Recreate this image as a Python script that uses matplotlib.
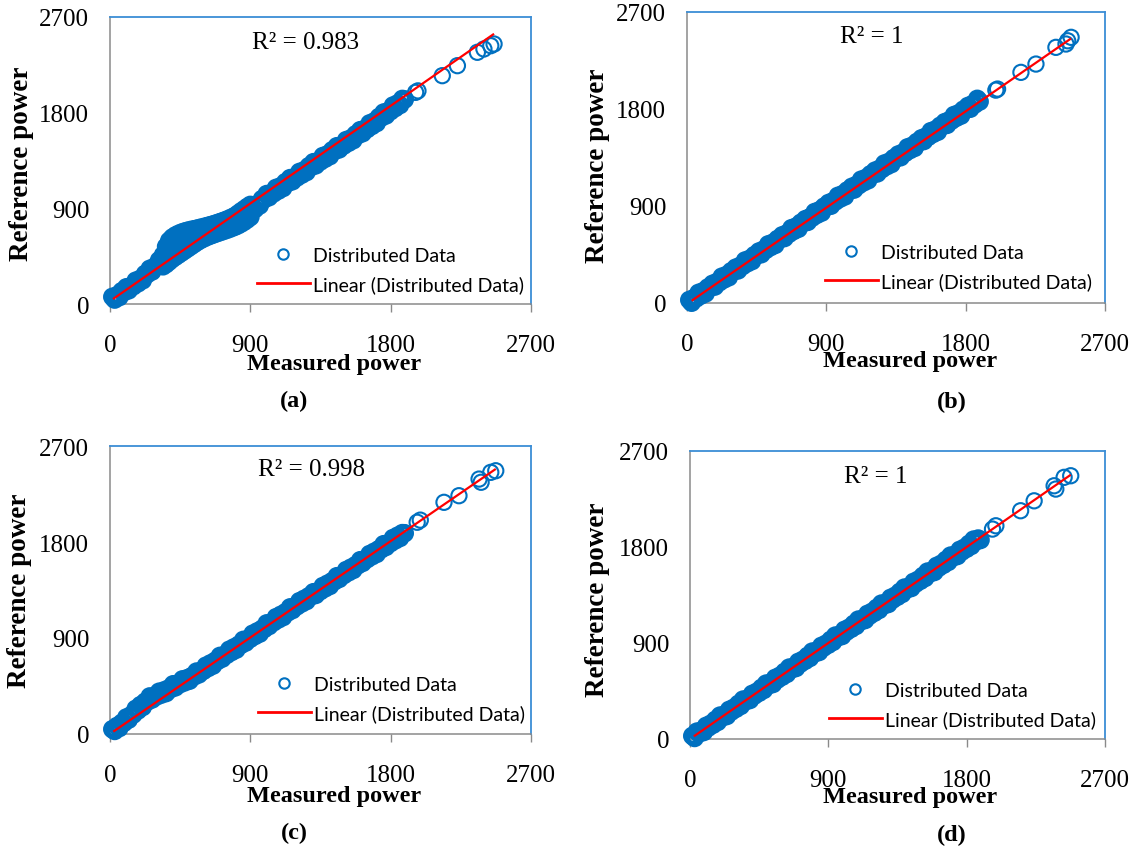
import matplotlib
matplotlib.use("Agg")
import matplotlib.pyplot as plt
from matplotlib.lines import Line2D
from matplotlib.font_manager import FontProperties
import numpy as np

plt.rcParams['font.family'] = ['Liberation Serif', 'DejaVu Serif']

W, H = 1137, 854

# ---------------- data ----------------
measured = [15, 30, 45, 60, 75, 90, 105, 120, 135, 150, 165, 180, 195, 210, 225, 240, 255, 270, 285, 300,
            315, 330, 345, 360, 375, 390, 405, 420, 435, 450, 465, 480, 495, 510, 525, 540, 555, 570, 585, 600,
            615, 630, 645, 660, 675, 690, 705, 720, 735, 750, 765, 780, 795, 810, 825, 840, 855, 870, 885, 900,
            915, 930, 945, 960, 975, 990, 1005, 1020, 1035, 1050, 1065, 1080, 1095, 1110, 1125, 1140, 1155, 1170, 1185, 1200,
            1215, 1230, 1245, 1260, 1275, 1290, 1305, 1320, 1335, 1350, 1365, 1380, 1395, 1410, 1425, 1440, 1455, 1470, 1485, 1500,
            1515, 1530, 1545, 1560, 1575, 1590, 1605, 1620, 1635, 1650, 1665, 1680, 1695, 1710, 1725, 1740, 1755, 1770, 1785, 1800,
            1815, 1830, 1845, 1860, 1875, 1890]

ref_a = [67, 42, 82, 65, 120, 112, 157, 129, 169, 167, 219, 195, 237, 223, 283, 281, 331, 306, 350, 352,
         411, 394, 445, 438, 504, 505, 558, 536, 578, 578, 631, 604, 644, 623, 672, 660, 698, 661, 693, 682,
         724, 690, 722, 697, 743, 727, 763, 726, 757, 747, 790, 757, 790, 769, 821, 812, 855, 824, 861, 856,
         912, 893, 939, 927, 987, 986, 1034, 1005, 1044, 1041, 1092, 1067, 1108, 1091, 1146, 1139, 1184, 1155, 1194, 1191,
         1242, 1217, 1258, 1241, 1296, 1289, 1334, 1305, 1344, 1341, 1392, 1367, 1408, 1391, 1446, 1439, 1484, 1455, 1494, 1491,
         1542, 1517, 1558, 1541, 1596, 1589, 1635, 1607, 1648, 1646, 1699, 1675, 1718, 1702, 1759, 1754, 1801, 1774, 1815, 1814,
         1867, 1844, 1887, 1872, 1929, 1924]

ref_b = [28, 3, 46, 43, 94, 69, 110, 89, 144, 141, 178, 153, 196, 193, 244, 219, 260, 239, 294, 291,
         328, 303, 346, 343, 394, 369, 410, 389, 444, 441, 478, 453, 496, 493, 544, 519, 560, 539, 594, 591,
         628, 603, 646, 643, 694, 669, 710, 689, 744, 741, 778, 753, 796, 793, 844, 819, 860, 839, 894, 891,
         928, 903, 946, 943, 994, 969, 1010, 989, 1044, 1041, 1078, 1053, 1096, 1093, 1144, 1119, 1160, 1139, 1194, 1191,
         1228, 1203, 1246, 1243, 1294, 1269, 1310, 1289, 1344, 1341, 1378, 1353, 1396, 1393, 1444, 1419, 1460, 1439, 1494, 1491,
         1528, 1503, 1546, 1543, 1594, 1569, 1610, 1589, 1644, 1641, 1678, 1653, 1696, 1693, 1744, 1719, 1760, 1739, 1794, 1791,
         1828, 1803, 1846, 1843, 1894, 1869]

ref_c = [45, 29, 75, 56, 104, 105, 155, 135, 176, 183, 236, 221, 270, 253, 302, 304, 352, 324, 356, 353,
         396, 370, 408, 384, 426, 422, 466, 438, 470, 468, 512, 485, 523, 500, 543, 540, 585, 559, 593, 593,
         640, 619, 662, 641, 686, 685, 732, 707, 742, 743, 790, 769, 812, 791, 836, 835, 882, 857, 892, 893,
         940, 919, 962, 941, 986, 985, 1037, 1012, 1047, 1048, 1095, 1074, 1117, 1096, 1141, 1140, 1187, 1162, 1197, 1198,
         1245, 1224, 1267, 1246, 1291, 1290, 1329, 1304, 1339, 1340, 1387, 1366, 1409, 1388, 1433, 1432, 1479, 1454, 1489, 1490,
         1537, 1516, 1559, 1538, 1583, 1582, 1629, 1604, 1639, 1640, 1687, 1666, 1709, 1688, 1733, 1732, 1779, 1754, 1789, 1790,
         1837, 1816, 1859, 1838, 1883, 1882]

ref_d = [29, 10, 69, 52, 79, 66, 123, 108, 143, 134, 179, 160, 219, 202, 229, 216, 273, 258, 293, 284,
         329, 310, 369, 352, 379, 366, 423, 408, 443, 434, 479, 460, 519, 502, 529, 516, 573, 558, 593, 584,
         629, 610, 669, 652, 679, 666, 723, 708, 743, 734, 779, 760, 819, 802, 829, 816, 873, 858, 893, 884,
         929, 910, 969, 952, 979, 966, 1023, 1008, 1043, 1034, 1079, 1060, 1119, 1102, 1129, 1116, 1173, 1158, 1193, 1184,
         1229, 1210, 1269, 1252, 1279, 1266, 1323, 1308, 1343, 1334, 1379, 1360, 1419, 1402, 1429, 1416, 1473, 1458, 1493, 1484,
         1529, 1510, 1569, 1552, 1579, 1566, 1623, 1608, 1643, 1634, 1679, 1660, 1719, 1702, 1729, 1716, 1773, 1758, 1793, 1784,
         1829, 1810, 1869, 1852, 1879, 1866]

# extra spread of panel (a) around its step near 400-900
bulge_meas_a = [340, 360, 380, 400, 420, 440, 460, 480, 500, 520, 540, 560, 580, 600, 620,
                640, 660, 680, 700, 720, 740, 760, 780, 800, 820, 840, 860, 880, 900]
bulge_hi_a = [460, 540, 595, 625, 645, 660, 672, 682, 690, 697, 703, 710, 717, 724, 732,
              740, 748, 757, 767, 777, 788, 800, 813, 827, 848, 870, 890, 912, 932]
bulge_lo_a = [355, 375, 400, 425, 445, 465, 485, 505, 525, 545, 565, 585, 602, 617, 630,
              642, 653, 664, 674, 684, 694, 704, 715, 727, 740, 756, 774, 795, 818]

# sparse high-power points
tail_meas_a = [1960, 1975, 2131, 2228, 2356, 2398, 2442, 2463]
tail_ref_a = [1991, 2005, 2148, 2242, 2368, 2399, 2430, 2446]
tail_meas_b = [1995, 2006, 2157, 2254, 2383, 2448, 2459, 2481]
tail_ref_b = [1975, 1985, 2140, 2217, 2372, 2403, 2433, 2465]
tail_meas_c = [1970, 1990, 2142, 2238, 2367, 2380, 2442, 2474]
tail_ref_c = [1985, 2005, 2172, 2234, 2390, 2360, 2453, 2468]
tail_meas_d = [1968, 1990, 2151, 2239, 2369, 2380, 2434, 2477]
tail_ref_d = [1968, 1999, 2140, 2233, 2374, 2343, 2453, 2468]

r2_labels = ["R\u00b2 = 0.983", "R\u00b2 = 1", "R\u00b2 = 0.998", "R\u00b2 = 1"]
trend_slope = [1.021, 0.993, 1.004, 1.000]
trend_icpt = [27, -9, 1, 0]
trend_xmin = [19, 30, 21, 25]
trend_xmax = [2463, 2481, 2474, 2477]
panel_letters = ["(a)", "(b)", "(c)", "(d)"]
axis_ticks = [0, 900, 1800, 2700]
x_title = "Measured power"
y_title = "Reference power"
legend_labels = ["Distributed Data", "Linear (Distributed Data)"]

# ---------------- layout ----------------
BLUE = '#0070C0'
GRAY = '#8A8A8A'
BORDER = '#3C8ED6'

fig = plt.figure(figsize=(W / 100, H / 100), dpi=100)
fig.patch.set_facecolor('white')


def rect(l, t, r, b):
    return [l / W, 1 - b / H, (r - l) / W, (b - t) / H]


def fx(x):
    return x / W


def fy(y):
    return 1 - y / H


panels = [
    dict(box=(110, 18, 531, 305), y=ref_a, tx=tail_meas_a, ty=tail_ref_a,
         r2=(306, 43), xl=(334, 365), yl=(22, 164), let=(294, 401), leg=(257, 271)),
    dict(box=(687, 13, 1105, 304), y=ref_b, tx=tail_meas_b, ty=tail_ref_b,
         r2=(872, 37), xl=(910, 362), yl=(598, 166), let=(952, 402), leg=(825, 268)),
    dict(box=(110, 447, 531, 735), y=ref_c, tx=tail_meas_c, ty=tail_ref_c,
         r2=(311, 470), xl=(334, 797), yl=(20, 591), let=(294, 833), leg=(258, 700)),
    dict(box=(690, 452, 1105, 740), y=ref_d, tx=tail_meas_d, ty=tail_ref_d,
         r2=(876, 477), xl=(910, 798), yl=(598, 600), let=(952, 835), leg=(829, 706)),
]

leg_font = FontProperties(family='Lato', size=14)

for i, p in enumerate(panels):
    ax = fig.add_axes(rect(*p['box']))
    ax.set_xlim(0, 2700)
    ax.set_ylim(0, 2700)
    ax.set_xticks(axis_ticks)
    ax.set_yticks(axis_ticks)
    ax.set_xticklabels([str(t) for t in axis_ticks])
    ax.set_yticklabels([str(t) for t in axis_ticks])
    ax.tick_params(axis='x', length=5.8, width=1.0, color=GRAY, direction='out',
                   pad=16, labelsize=18, labelcolor='black')
    ax.tick_params(axis='y', length=0, pad=15, labelsize=18, labelcolor='black')
    for s in ['top', 'right']:
        ax.spines[s].set_color(BORDER)
        ax.spines[s].set_linewidth(1.3)
    for s in ['left', 'bottom']:
        ax.spines[s].set_color(GRAY)
        ax.spines[s].set_linewidth(1.1)

    # dense overlapping points: heavier ring so the overlap reads as a solid band
    dense_kw = dict(s=100, facecolors='none', edgecolors=BLUE, linewidths=3.4,
                    clip_on=False, zorder=3)
    sparse_kw = dict(s=120, facecolors='none', edgecolors=BLUE, linewidths=1.5,
                     clip_on=False, zorder=3)
    ax.scatter(measured, p['y'], **dense_kw)
    if i == 0:
        ax.scatter(bulge_meas_a, bulge_hi_a, **dense_kw)
        ax.scatter(bulge_meas_a, bulge_lo_a, **dense_kw)
    ax.scatter(p['tx'], p['ty'], **sparse_kw)

    xs = np.array([trend_xmin[i], trend_xmax[i]], dtype=float)
    ax.plot(xs, trend_slope[i] * xs + trend_icpt[i], color='#FF0000', lw=1.6,
            zorder=4, clip_on=False, solid_capstyle='butt')

    fig.text(fx(p['r2'][0]), fy(p['r2'][1]), r2_labels[i], ha='center', va='center',
             fontsize=18, color='black')
    fig.text(fx(p['xl'][0]), fy(p['xl'][1]), x_title, ha='center', va='center',
             fontsize=17.5, fontweight='bold', color='black')
    fig.text(fx(p['yl'][0]), fy(p['yl'][1]), y_title, ha='center', va='center',
             fontsize=19.5, fontweight='bold', rotation=90, color='black')
    fig.text(fx(p['let'][0]), fy(p['let'][1]), panel_letters[i], ha='center', va='center',
             fontsize=17.5, fontweight='bold', color='black')

    handles = [Line2D([], [], ls='none', marker='o', mfc='none', mec=BLUE, ms=7.5, mew=1.5),
               Line2D([], [], color='#FF0000', lw=2)]
    fig.legend(handles, legend_labels, loc='center left',
               bbox_to_anchor=(fx(p['leg'][0]), fy(p['leg'][1])),
               frameon=False, prop=leg_font, handlelength=2.7, handletextpad=0.2,
               labelspacing=0.55, borderpad=0, borderaxespad=0)

fig.savefig('out.png', dpi=100, facecolor='white')
